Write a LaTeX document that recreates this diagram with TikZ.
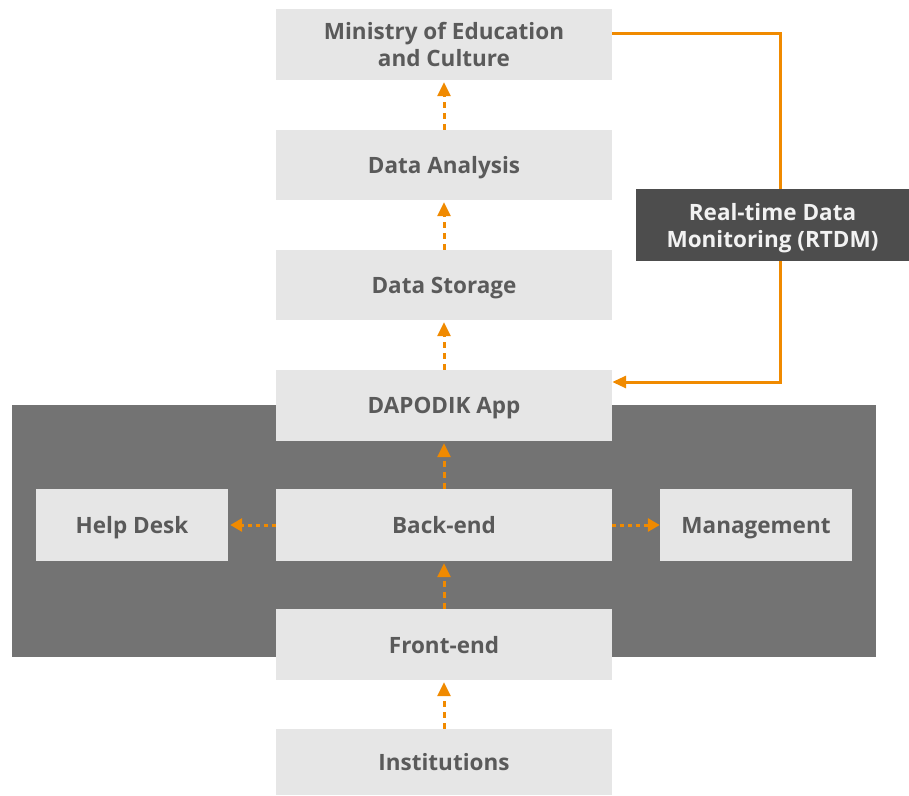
\documentclass[tikz,border=0pt]{standalone}
\usepackage{fontspec}
\setmainfont{Open Sans}
\usetikzlibrary{arrows.meta}
\definecolor{boxgray}{HTML}{E6E6E6}
\definecolor{bggray}{HTML}{737373}
\definecolor{darkbox}{HTML}{4D4D4D}
\definecolor{txtgray}{HTML}{5A5A5A}
\definecolor{orng}{HTML}{F08A00}
\tikzset{
  lbox/.style={fill=boxgray, draw=none, minimum width=336pt, minimum height=71pt, inner sep=0pt, text=txtgray, font=\fontsize{22.5}{27}\selectfont\bfseries, align=center, text depth=0pt},
  sbox/.style={lbox, minimum width=192pt},
  arr/.style={draw=orng, line width=3pt, dash pattern=on 6pt off 5pt, -{Triangle[length=14pt,width=13pt]}},
  harr/.style={draw=orng, line width=3pt, dash pattern=on 4pt off 4pt, -{Triangle[length=12pt,width=13pt]}},
  feed/.style={draw=orng, line width=3pt, -{Triangle[length=14pt,width=12pt]}}
}
\begin{document}
\begin{tikzpicture}[x=1pt,y=-1pt]
\useasboundingbox (0,0) rectangle (909,795);
\fill[bggray] (12,405) rectangle (876,657);
\node[lbox] (min) at (444,44.5) {Ministry of Education\\and Culture};
\node[lbox, minimum height=70pt] (ana) at (444,165) {Data Analysis};
\node[lbox, minimum height=70pt] (sto) at (444,285) {Data Storage};
\node[lbox] (dap) at (444,405.5) {DAPODIK App};
\node[lbox, minimum height=72pt] (back) at (444,525) {Back-end};
\node[lbox] (front) at (444,644.5) {Front-end};
\node[lbox, minimum height=66pt] (inst) at (444,762) {Institutions};
\node[sbox, minimum height=72pt] (help) at (132,525) {Help Desk};
\node[sbox, minimum height=72pt] (mgmt) at (756,525) {Management};
\coordinate (c1) at (780,33);
\coordinate (c2) at (780,382);
\draw[feed] (min.east |- c1) -- (c1) -- (c2) -- (dap.east |- c2);
\node[fill=darkbox, minimum width=273pt, minimum height=72pt, inner sep=0pt, text=white!95!black, font=\fontsize{22.5}{27}\selectfont\bfseries, align=center, text depth=0pt] (rtdm) at (772.5,225) {Real-time Data\\Monitoring (RTDM)};
\draw[arr, shorten >=2pt] (ana.north) -- (min.south);
\draw[arr, shorten >=2pt] (sto.north) -- (ana.south);
\draw[arr, shorten >=2pt] (dap.north) -- (sto.south);
\draw[arr, shorten >=2pt] (back.north) -- (dap.south);
\draw[arr, shorten >=2pt] (front.north) -- (back.south);
\draw[arr, shorten >=2pt] (inst.north) -- (front.south);
\draw[harr, shorten >=2pt] (back.west) -- (help.east);
\draw[harr] (back.east) -- (mgmt.west);
\end{tikzpicture}
\end{document}
